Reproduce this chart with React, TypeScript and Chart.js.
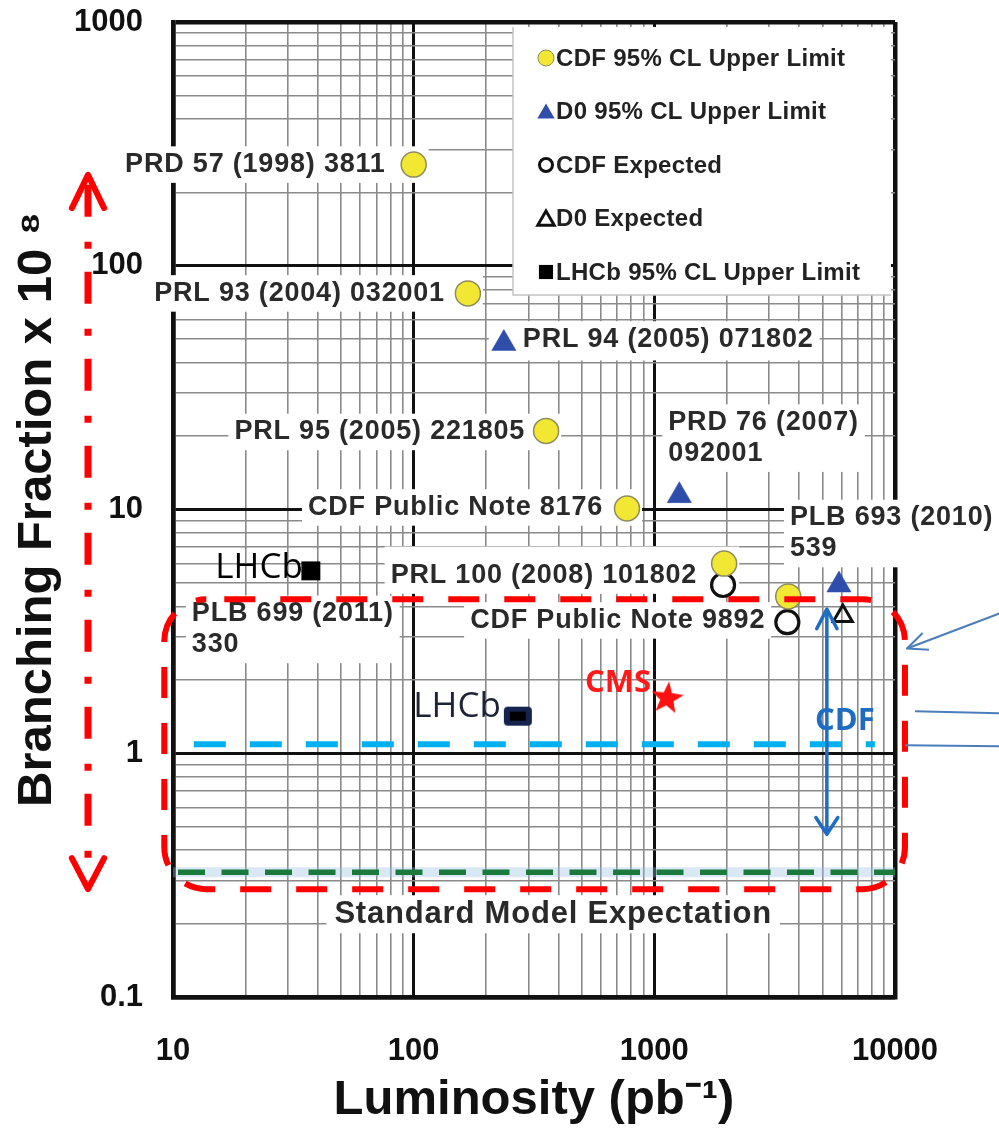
import React, { useEffect, useRef } from 'react';
import { Chart, registerables } from 'chart.js';

Chart.register(...registerables);

// ---------------- data ----------------
const CDF_UL_X = [100, 168, 355, 770, 1950, 3600];
const CDF_UL_Y = [260, 77, 21, 10.1, 6.0, 4.4];
const D0_UL_X = [237, 1270, 5850];
const D0_UL_Y = [48, 11.4, 4.9];
const CDF_EXP_X = [1930, 3570];
const CDF_EXP_Y = [4.9, 3.45];
const D0_EXP_X = [6070];
const D0_EXP_Y = [3.66];
const LHCB_X = [37.4, 271];
const LHCB_Y = [5.6, 1.42];
const CMS_X = [1130];
const CMS_Y = [1.68];
const CMS_SENS_X = [12.2, 8250];
const CMS_SENS_Y = [1.09, 1.09];
const SM_X = [10, 10000];
const SM_Y = [0.325, 0.325];

const SERIES_NAMES = [
  'CDF 95% CL Upper Limit',
  'D0 95% CL Upper Limit',
  'CDF Expected',
  'D0 Expected',
  'LHCb 95% CL Upper Limit',
];
const X_TICK_VALUES = [10, 100, 1000, 10000];
const X_TICK_LABELS = ['10', '100', '1000', '10000'];
const Y_TICK_VALUES = [0.1, 1, 10, 100, 1000];
const Y_TICK_LABELS = ['0.1', '1', '10', '100', '1000'];
const X_TITLE = 'Luminosity (pb\u207B\u00B9)';
const Y_TITLE = 'Branching Fraction x 10 \u2078';

const REF_TEXTS: string[][] = [
  ['PRD 57 (1998) 3811'],
  ['PRL 93 (2004) 032001'],
  ['PRL 94 (2005) 071802'],
  ['PRL 95 (2005) 221805'],
  ['PRD 76 (2007)', '092001'],
  ['CDF Public Note 8176'],
  ['PLB 693 (2010)', '539'],
  ['PRL 100 (2008) 101802'],
  ['CDF Public Note 9892'],
  ['PLB 699 (2011)', '330'],
];
// which point each reference label belongs to
const REF_POINT: [string, number][] = [
  ['cdf', 0], ['cdf', 1], ['d0', 0], ['cdf', 2], ['d0', 1],
  ['cdf', 3], ['d0', 2], ['cdf', 4], ['cdf', 5], ['lhcb', 0],
];
const SM_TEXT = 'Standard Model Expectation';
const CDF_TEXT = 'CDF';
const LHCB_TEXT = 'LHCb';
const CMS_TEXT = 'CMS';

// ---------------- layout / annotation geometry ----------------
// [dx, dy of first line (px from point), align, white box includes marker]
const REF_LAYOUT: [number, number, CanvasTextAlign, boolean][] = [
  [-28, 0, 'right', true],
  [-23, 0, 'right', true],
  [19, -4, 'left', true],
  [-21, 1, 'right', true],
  [-11, -73, 'left', false],
  [-24, -1, 'right', true],
  [-49, -67, 'left', false],
  [-27, 12, 'right', true],
  [-23, 24, 'right', false],
  [-119, 43, 'left', false],
];
const SM_TEXT_POS = { x: 380, dy: 42 };
const RED_BOX = { x0: 9.2, x1: 11000, yTop: 4.28, yBottom: 0.277, radius: 42 };
const RED_ARROW = { top: 236, bottom: 0.277, dx: -85 };
const CDF_ARROW = { x: 5210, top: 3.9, bottom: 0.465 };
const CDF_TEXT_POS = { x: 6194, y: 1.352 };
const POINTERS = [
  { x0: 12, y0: 2.69, x1: 110, y1: 3.82, head: true },
  { x0: 20, y0: 1.486, x1: 110, y1: 1.459, head: false },
  { x0: 10, y0: 1.078, x1: 110, y1: 1.068, head: false },
];

const ARIAL = '"Liberation Sans", Arial, Helvetica, sans-serif';
const CALIBRI = '"Open Sans", "Noto Sans", sans-serif';
const YELLOW = '#F2E834';
const YELLOW_EDGE = '#8E8C5C';
const D0_BLUE = '#2F4DAB';

const zip = (xs: number[], ys: number[]) => xs.map((x, i) => ({ x, y: ys[i] }));

function logTicks(min: number, max: number) {
  const out: number[] = [];
  const e0 = Math.round(Math.log10(min));
  const e1 = Math.round(Math.log10(max));
  for (let e = e0; e < e1; e++) {
    for (let m = 1; m < 10; m++) out.push(Number((m * Math.pow(10, e)).toPrecision(4)));
  }
  out.push(max);
  return out;
}
const isDecade = (v: number) => Math.abs(Math.log10(v) - Math.round(Math.log10(v))) < 1e-6;

function labelFor(values: number[], labels: string[], v: number) {
  const i = values.findIndex((t) => Math.abs(t - v) < 1e-6 * t);
  return i >= 0 ? labels[i] : '';
}

function makeStar(outer: number, inner: number, color: string) {
  const c = document.createElement('canvas');
  const s = Math.ceil(outer * 2 + 4);
  c.width = s;
  c.height = s;
  const g = c.getContext('2d')!;
  g.fillStyle = color;
  g.beginPath();
  for (let i = 0; i < 10; i++) {
    const r = i % 2 === 0 ? outer : inner;
    const a = -Math.PI / 2 + (i * Math.PI) / 5 + 0.12;
    g.lineTo(s / 2 + r * Math.cos(a), s / 2 + r * Math.sin(a));
  }
  g.closePath();
  g.fill();
  return c;
}

function makeNavyRect() {
  const c = document.createElement('canvas');
  c.width = 30;
  c.height = 21;
  const g = c.getContext('2d')!;
  g.fillStyle = '#14244F';
  g.beginPath();
  const x0 = 1, y0 = 1, x1 = 29, y1 = 20, r = 4;
  g.moveTo(x0 + r, y0);
  g.arcTo(x1, y0, x1, y1, r);
  g.arcTo(x1, y1, x0, y1, r);
  g.arcTo(x0, y1, x0, y0, r);
  g.arcTo(x0, y0, x1, y0, r);
  g.closePath();
  g.fill();
  g.fillStyle = '#000';
  g.fillRect(7, 6, 16, 9);
  return c;
}

function drawMarker(
  ctx: CanvasRenderingContext2D, style: string, x: number, y: number, r: number,
  fill: string | null, stroke: string | null, lw: number,
) {
  ctx.beginPath();
  if (style === 'circle') ctx.arc(x, y, r, 0, Math.PI * 2);
  else if (style === 'triangle') {
    ctx.moveTo(x, y - r);
    ctx.lineTo(x + r * Math.sin((2 * Math.PI) / 3), y - r * Math.cos((2 * Math.PI) / 3));
    ctx.lineTo(x + r * Math.sin((4 * Math.PI) / 3), y - r * Math.cos((4 * Math.PI) / 3));
    ctx.closePath();
  } else {
    const s = r * Math.SQRT1_2;
    ctx.rect(x - s, y - s, 2 * s, 2 * s);
  }
  if (fill) {
    ctx.fillStyle = fill;
    ctx.fill();
  }
  if (stroke && lw > 0) {
    ctx.strokeStyle = stroke;
    ctx.lineWidth = lw;
    ctx.stroke();
  }
}

function arrowHead(
  ctx: CanvasRenderingContext2D, tipX: number, tipY: number, fromX: number, fromY: number,
  len: number, ang: number,
) {
  const a = Math.atan2(tipY - fromY, tipX - fromX);
  ctx.beginPath();
  ctx.moveTo(tipX - len * Math.cos(a - ang), tipY - len * Math.sin(a - ang));
  ctx.lineTo(tipX, tipY);
  ctx.lineTo(tipX - len * Math.cos(a + ang), tipY - len * Math.sin(a + ang));
  ctx.stroke();
}

const SERIES: Record<string, [number[], number[]]> = {
  cdf: [CDF_UL_X, CDF_UL_Y],
  d0: [D0_UL_X, D0_UL_Y],
  lhcb: [LHCB_X, LHCB_Y],
  cms: [CMS_X, CMS_Y],
};

const overlayPlugin = {
  id: 'bsmumuOverlay',
  beforeDatasetsDraw(chart: any) {
    const ctx: CanvasRenderingContext2D = chart.ctx;
    const xs = chart.scales.x;
    const ys = chart.scales.y;
    const area = chart.chartArea;
    ctx.save();

    // ---- reference labels with white boxes ----
    const fs = 27;
    ctx.font = `bold ${fs}px ${ARIAL}`;
    (ctx as any).letterSpacing = '0.8px';
    ctx.textBaseline = 'middle';
    REF_TEXTS.forEach((lines, i) => {
      const [key, idx] = REF_POINT[i];
      const [sx, sy] = SERIES[key];
      const px = xs.getPixelForValue(sx[idx]);
      const py = ys.getPixelForValue(sy[idx]);
      const [dx, dy, align, join] = REF_LAYOUT[i];
      const tx = px + dx;
      let bx0 = Infinity, bx1 = -Infinity, by0 = Infinity, by1 = -Infinity;
      lines.forEach((ln, j) => {
        const w = ctx.measureText(ln).width;
        const ty = py + dy + j * 31;
        const l = align === 'right' ? tx - w : tx;
        bx0 = Math.min(bx0, l - 6);
        bx1 = Math.max(bx1, l + w + 6);
        by0 = Math.min(by0, ty - fs * 0.38 - 8);
        by1 = Math.max(by1, ty + fs * 0.38 + 8);
      });
      if (join) {
        bx0 = Math.min(bx0, px - 15);
        bx1 = Math.max(bx1, px + 15);
        by0 = Math.min(by0, py - 17);
        by1 = Math.max(by1, py + 17);
      }
      ctx.fillStyle = '#ffffff';
      ctx.fillRect(bx0, by0, bx1 - bx0, by1 - by0);
      ctx.fillStyle = '#2a2a2a';
      ctx.textAlign = align;
      lines.forEach((ln, j) => ctx.fillText(ln, tx, py + dy + j * 31));
    });

    // ---- Standard Model label ----
    ctx.font = `bold 31px ${ARIAL}`;
    const smx = xs.getPixelForValue(SM_TEXT_POS.x);
    const smy = ys.getPixelForValue(SM_Y[0]) + SM_TEXT_POS.dy;
    const smw = ctx.measureText(SM_TEXT).width;
    ctx.fillStyle = '#ffffff';
    ctx.fillRect(smx - smw / 2 - 8, smy - 19, smw + 16, 38);
    ctx.fillStyle = '#2a2a2a';
    ctx.textAlign = 'center';
    ctx.fillText(SM_TEXT, smx, smy);
    (ctx as any).letterSpacing = '0px';

    // ---- legend box ----
    const lx = area.right - 382;
    const ly = area.top + 5;
    const lw = 378;
    const lh = 268;
    ctx.fillStyle = '#ffffff';
    ctx.fillRect(lx, ly, lw, lh);
    ctx.strokeStyle = '#c4c4c4';
    ctx.lineWidth = 1.5;
    ctx.beginPath();
    ctx.moveTo(lx, ly);
    ctx.lineTo(lx, ly + lh);
    ctx.lineTo(lx + lw, ly + lh);
    ctx.stroke();
    ctx.font = `bold 24px ${ARIAL}`;
    (ctx as any).letterSpacing = '0.3px';
    ctx.textAlign = 'left';
    ctx.textBaseline = 'middle';
    SERIES_NAMES.forEach((name, i) => {
      const ry = ly + 31 + i * 53.5;
      const mx = lx + 33;
      if (i === 0) drawMarker(ctx, 'circle', mx, ry, 8, YELLOW, YELLOW_EDGE, 1);
      if (i === 1) drawMarker(ctx, 'triangle', mx, ry + 2, 10, D0_BLUE, null, 0);
      if (i === 2) drawMarker(ctx, 'circle', mx, ry, 6.5, null, '#111', 3);
      if (i === 3) drawMarker(ctx, 'triangle', mx, ry + 2, 9.5, null, '#111', 3);
      if (i === 4) drawMarker(ctx, 'rect', mx, ry, 10, '#000', null, 0);
      ctx.fillStyle = '#222';
      ctx.fillText(name, lx + 43, ry + 1);
    });
    (ctx as any).letterSpacing = '0px';
    ctx.restore();
  },
  afterDatasetsDraw(chart: any) {
    const ctx: CanvasRenderingContext2D = chart.ctx;
    const xs = chart.scales.x;
    const ys = chart.scales.y;
    const area = chart.chartArea;
    ctx.save();

    // ---- red dashed rounded box ----
    const bx0 = xs.getPixelForValue(RED_BOX.x0);
    const bx1 = xs.getPixelForValue(RED_BOX.x1);
    const by0 = ys.getPixelForValue(RED_BOX.yTop);
    const by1 = ys.getPixelForValue(RED_BOX.yBottom);
    const r = RED_BOX.radius;
    ctx.strokeStyle = '#FF0000';
    ctx.lineWidth = 6;
    ctx.setLineDash([31, 25]);
    ctx.lineDashOffset = 38;
    ctx.beginPath();
    ctx.moveTo(bx0 + r, by0);
    ctx.lineTo(bx1 - r, by0);
    ctx.arcTo(bx1, by0, bx1, by0 + r, r);
    ctx.lineTo(bx1, by1 - r);
    ctx.arcTo(bx1, by1, bx1 - r, by1, r);
    ctx.lineTo(bx0 + r, by1);
    ctx.arcTo(bx0, by1, bx0, by1 - r, r);
    ctx.lineTo(bx0, by0 + r);
    ctx.arcTo(bx0, by0, bx0 + r, by0, r);
    ctx.closePath();
    ctx.stroke();

    // ---- red dash-dot double arrow (left) ----
    const ax = area.left + RED_ARROW.dx;
    const at = ys.getPixelForValue(RED_ARROW.top);
    const ab = ys.getPixelForValue(RED_ARROW.bottom);
    ctx.lineWidth = 7;
    ctx.setLineDash([32, 25, 7, 23]);
    ctx.lineDashOffset = 85;
    ctx.beginPath();
    ctx.moveTo(ax, at + 8);
    ctx.lineTo(ax, ab - 8);
    ctx.stroke();
    ctx.setLineDash([]);
    ctx.lineWidth = 6;
    ctx.lineCap = 'round';
    ctx.lineJoin = 'round';
    arrowHead(ctx, ax, at, ax, at + 100, 37, 0.45);
    arrowHead(ctx, ax, ab, ax, ab - 100, 35, 0.48);

    // ---- CDF blue double arrow ----
    const cx = xs.getPixelForValue(CDF_ARROW.x);
    const ct = ys.getPixelForValue(CDF_ARROW.top);
    const cb = ys.getPixelForValue(CDF_ARROW.bottom);
    ctx.strokeStyle = '#1F6DC2';
    ctx.lineWidth = 3.5;
    ctx.lineCap = 'butt';
    ctx.beginPath();
    ctx.moveTo(cx, ct + 1);
    ctx.lineTo(cx, cb - 1);
    ctx.stroke();
    ctx.lineCap = 'round';
    arrowHead(ctx, cx, ct, cx, ct + 100, 22, 0.48);
    arrowHead(ctx, cx, cb, cx, cb - 100, 20, 0.58);

    // ---- text overlays ----
    ctx.textBaseline = 'middle';
    ctx.font = `bold 31px ${CALIBRI}`;
    ctx.fillStyle = '#1F6DC2';
    ctx.textAlign = 'center';
    ctx.fillText(CDF_TEXT, xs.getPixelForValue(CDF_TEXT_POS.x), ys.getPixelForValue(CDF_TEXT_POS.y));

    ctx.textAlign = 'right';
    ctx.font = `35px ${CALIBRI}`;
    ctx.fillStyle = '#000';
    ctx.fillText(LHCB_TEXT, xs.getPixelForValue(LHCB_X[0]) - 8, ys.getPixelForValue(LHCB_Y[0]) - 3);
    ctx.fillStyle = '#1c2436';
    ctx.fillText(LHCB_TEXT, xs.getPixelForValue(LHCB_X[1]) - 17, ys.getPixelForValue(LHCB_Y[1]) - 9);

    ctx.font = `bold 31px ${CALIBRI}`;
    ctx.fillStyle = '#FF1A1A';
    ctx.fillText(CMS_TEXT, xs.getPixelForValue(CMS_X[0]) - 16, ys.getPixelForValue(CMS_Y[0]) - 15);

    // ---- thin pointer arrows from the right ----
    ctx.strokeStyle = '#4A7EBB';
    ctx.lineWidth = 2;
    ctx.lineCap = 'butt';
    POINTERS.forEach((p) => {
      const x0 = area.right + p.x0;
      const y0 = ys.getPixelForValue(p.y0);
      const x1 = area.right + p.x1;
      const y1 = ys.getPixelForValue(p.y1);
      ctx.beginPath();
      ctx.moveTo(x1, y1);
      ctx.lineTo(x0, y0);
      ctx.stroke();
      if (p.head) arrowHead(ctx, x0, y0, x1, y1, 22, 0.42);
    });
    ctx.restore();
  },
};

export default function App() {
  const ref = useRef<HTMLCanvasElement>(null);

  useEffect(() => {
    const canvas = ref.current;
    if (!canvas) return;
    const star = makeStar(17, 7, '#FF1010');
    const navy = makeNavyRect();

    const xTicks = logTicks(10, 10000);
    const yTicks = logTicks(0.1, 1000);

    const gridColor = (c: any) => (c.tick && isDecade(c.tick.value) ? '#111111' : '#8a8a8a');
    const gridWidth = (lo: number, hi: number) => (c: any) => {
      const v = c.tick ? c.tick.value : null;
      if (v == null) return 1.5;
      if (Math.abs(v - lo) < 1e-9 || Math.abs(v - hi) < 1e-6) return 4.5;
      return isDecade(v) ? 3 : 1.6;
    };

    const chart = new Chart(canvas, {
      type: 'scatter',
      data: {
        datasets: [
          {
            label: SERIES_NAMES[0],
            data: zip(CDF_UL_X, CDF_UL_Y),
            pointStyle: 'circle',
            pointRadius: 12.5,
            backgroundColor: YELLOW,
            borderColor: YELLOW_EDGE,
            borderWidth: 1.5,
          },
          {
            label: SERIES_NAMES[1],
            data: zip(D0_UL_X, D0_UL_Y),
            pointStyle: 'triangle',
            pointRadius: 14,
            backgroundColor: D0_BLUE,
            borderColor: D0_BLUE,
            borderWidth: 0.5,
          },
          {
            label: SERIES_NAMES[2],
            data: zip(CDF_EXP_X, CDF_EXP_Y),
            pointStyle: 'circle',
            pointRadius: 11.5,
            backgroundColor: 'rgba(0,0,0,0)',
            borderColor: '#111',
            borderWidth: 3.2,
          },
          {
            label: SERIES_NAMES[3],
            data: zip(D0_EXP_X, D0_EXP_Y),
            pointStyle: 'triangle',
            pointRadius: 11,
            backgroundColor: 'rgba(0,0,0,0)',
            borderColor: '#111',
            borderWidth: 3,
          },
          {
            label: SERIES_NAMES[4],
            data: zip(LHCB_X, LHCB_Y),
            pointStyle: ['rect', navy] as any,
            pointRadius: [13.4, 12] as any,
            backgroundColor: '#000',
            borderColor: '#000',
            borderWidth: 0,
          },
          {
            label: 'CMS',
            data: zip(CMS_X, CMS_Y),
            pointStyle: star as any,
            pointRadius: 17,
          },
          {
            label: 'CMS sensitivity',
            data: zip(CMS_SENS_X, CMS_SENS_Y),
            showLine: true,
            pointRadius: 0,
            borderColor: '#00B0F0',
            borderWidth: 6,
            borderDash: [32, 24],
            fill: false,
          },
          {
            label: 'Standard Model',
            data: zip(SM_X, SM_Y),
            showLine: true,
            pointRadius: 0,
            borderColor: '#1A7A3C',
            borderWidth: 5.5,
            borderDash: [27, 16.5],
            borderDashOffset: 38.5,
            fill: false,
          },
          {
            label: 'Standard Model glow',
            data: zip(SM_X, SM_Y),
            showLine: true,
            pointRadius: 0,
            borderColor: 'rgba(150,185,225,0.35)',
            borderWidth: 10,
            fill: false,
          },
        ] as any,
      },
      options: {
        responsive: false,
        animation: false,
        events: [],
        layout: { padding: { top: 22, right: 104, left: 0, bottom: 0 } },
        plugins: { legend: { display: false }, tooltip: { enabled: false } },
        scales: {
          x: {
            type: 'logarithmic',
            position: 'bottom',
            min: 10,
            max: 10000,
            afterFit: (s: any) => {
              s.height = 135;
              s.paddingLeft = 0;
              s.paddingRight = 0;
            },
            afterBuildTicks: (s: any) => { s.ticks = xTicks.map((v) => ({ value: v })); },
            border: { display: true, color: '#111', width: 4.5 },
            grid: { drawTicks: false, color: gridColor, lineWidth: gridWidth(10, 10000) },
            ticks: {
              autoSkip: false,
              maxRotation: 0,
              minRotation: 0,
              padding: 36,
              color: '#111',
              font: { family: ARIAL, size: 31, weight: 'bold' },
              callback: (v: any) => labelFor(X_TICK_VALUES, X_TICK_LABELS, Number(v)),
            },
            title: {
              display: true,
              text: X_TITLE,
              color: '#111',
              font: { family: ARIAL, size: 49, weight: 'bold' },
              padding: { top: 0, bottom: 2 },
            },
          },
          y: {
            type: 'logarithmic',
            position: 'left',
            min: 0.1,
            max: 1000,
            afterFit: (s: any) => {
              s.width = 173;
              s.paddingTop = 0;
              s.paddingBottom = 0;
            },
            afterBuildTicks: (s: any) => { s.ticks = yTicks.map((v) => ({ value: v })); },
            border: { display: true, color: '#111', width: 4.5 },
            grid: { drawTicks: false, color: gridColor, lineWidth: gridWidth(0.1, 1000) },
            ticks: {
              autoSkip: false,
              padding: 30,
              color: '#111',
              font: { family: ARIAL, size: 31, weight: 'bold' },
              callback: (v: any) => labelFor(Y_TICK_VALUES, Y_TICK_LABELS, Number(v)),
            },
            title: {
              display: true,
              text: Y_TITLE,
              color: '#111',
              font: { family: ARIAL, size: 49, weight: 'bold' },
              padding: { top: 8, bottom: 0 },
            },
          },
        },
      } as any,
      plugins: [overlayPlugin],
    });
    return () => chart.destroy();
  }, []);

  return (
    <div style={{ position: 'absolute', left: 0, top: 0, width: 999, height: 1132, background: '#ffffff' }}>
      <canvas ref={ref} width={999} height={1132} style={{ display: 'block' }} />
    </div>
  );
}
